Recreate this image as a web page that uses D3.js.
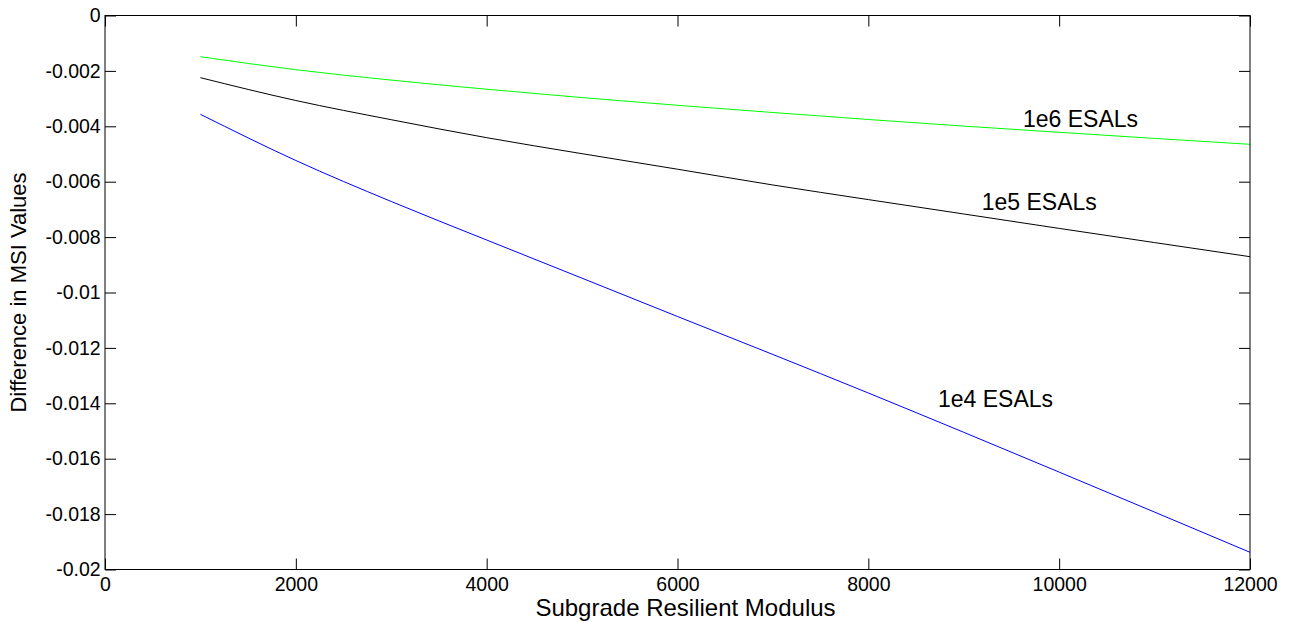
<!DOCTYPE html>
<html>
<head>
<meta charset="utf-8">
<script src="https://cdn.jsdelivr.net/npm/d3@7/dist/d3.min.js"></script>
<style>
  html, body { margin: 0; padding: 0; background: #fff; }
  svg { display: block; }
  text { font-family: "Liberation Sans", Arial, sans-serif; fill: #000; }
</style>
</head>
<body>
<svg id="chart" width="1294" height="622"></svg>
<script>
// ---- data ----
const modulus = [1000, 2000, 3000, 4000, 5000, 6000, 7000, 8000, 9000, 10000, 11000, 12000];
const esal1e6 = [-0.001487, -0.001957, -0.002332, -0.002661, -0.002964, -0.003242, -0.003502, -0.003754, -0.003993, -0.004217, -0.004437, -0.004650];
const esal1e5 = [-0.002245, -0.003069, -0.003762, -0.004411, -0.004989, -0.005549, -0.006119, -0.006646, -0.007166, -0.007686, -0.008198, -0.008707];
const esal1e4 = [-0.003567, -0.005235, -0.006715, -0.008105, -0.009484, -0.010866, -0.012238, -0.013628, -0.015047, -0.016484, -0.017928, -0.019379];
const seriesNames = ["1e6 ESALs", "1e5 ESALs", "1e4 ESALs"];
const seriesColors = ["#00ff00", "#000000", "#0000ff"];
const labelX = [9621, 9188, 8730];
const labelY = [-0.004014, -0.00702, -0.01412];
const xTicks = [0, 2000, 4000, 6000, 8000, 10000, 12000];
const xTickLabels = ["0", "2000", "4000", "6000", "8000", "10000", "12000"];
const yTicks = [0, -0.002, -0.004, -0.006, -0.008, -0.01, -0.012, -0.014, -0.016, -0.018, -0.02];
const yTickLabels = ["0", "-0.002", "-0.004", "-0.006", "-0.008", "-0.01", "-0.012", "-0.014", "-0.016", "-0.018", "-0.02"];
const xTitle = "Subgrade Resilient Modulus";
const yTitle = "Difference in MSI Values";

// ---- layout ----
const L = 105, R = 1250, T = 15.5, B = 569.5;
const svg = d3.select("#chart");
const x = d3.scaleLinear().domain([0, 12000]).range([L, R]);
const y = d3.scaleLinear().domain([-0.02, 0]).range([B, T]);

const fs = 19.5;
const tick = 11;

// axes
const gx = svg.append("g").attr("transform", `translate(0,${B})`)
  .call(d3.axisBottom(x).tickValues(xTicks).tickFormat((d, i) => xTickLabels[i])
    .tickSizeInner(-tick).tickSizeOuter(0).tickPadding(8));
const gxt = svg.append("g").attr("transform", `translate(0,${T})`)
  .call(d3.axisTop(x).tickValues(xTicks).tickFormat("").tickSizeInner(-tick).tickSizeOuter(0));
const gy = svg.append("g").attr("transform", `translate(${L},0)`)
  .call(d3.axisLeft(y).tickValues(yTicks).tickFormat((d, i) => yTickLabels[i])
    .tickSizeInner(-tick).tickSizeOuter(0).tickPadding(4.3));
const gyr = svg.append("g").attr("transform", `translate(${R},0)`)
  .call(d3.axisRight(y).tickValues(yTicks).tickFormat("").tickSizeInner(-tick).tickSizeOuter(0));

[gx, gxt, gy, gyr].forEach(g => {
  g.select(".domain").remove();
  g.selectAll(".tick line").attr("stroke", "#000").attr("stroke-width", 1);
  g.selectAll(".tick text").attr("font-size", fs).attr("font-family", "Liberation Sans, Arial, sans-serif").attr("fill", "#000");
});

// lines
const allSeries = [esal1e6, esal1e5, esal1e4];
const line = d3.line().x((d, i) => x(modulus[i])).y(d => y(d)).curve(d3.curveMonotoneX);
allSeries.forEach((s, k) => {
  svg.append("path").datum(s).attr("d", line)
    .attr("fill", "none").attr("stroke", seriesColors[k]).attr("stroke-width", 1);
});

// box
svg.append("rect").attr("x", L).attr("y", T).attr("width", R - L).attr("height", B - T)
  .attr("fill", "none").attr("stroke", "#000").attr("stroke-width", 1);

// series labels
seriesNames.forEach((n, k) => {
  svg.append("text").attr("x", x(labelX[k])).attr("y", y(labelY[k]))
    .attr("font-size", 23).text(n);
});

// titles
svg.append("text").attr("x", (L + R) / 2 + 8).attr("y", 616).attr("text-anchor", "middle")
  .attr("font-size", 24).text(xTitle);
svg.append("text").attr("transform", `translate(26,${(T + B) / 2}) rotate(-90)`)
  .attr("text-anchor", "middle").attr("font-size", 22).text(yTitle);
</script>
</body>
</html>
